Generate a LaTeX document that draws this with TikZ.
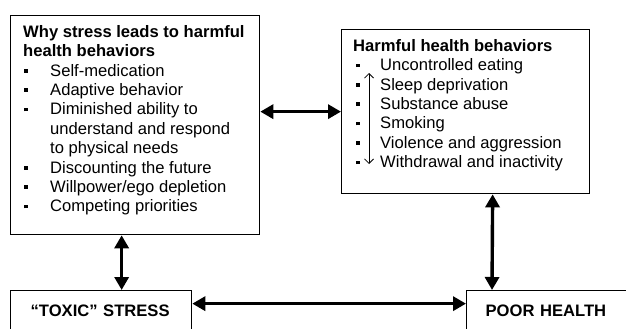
\documentclass[tikz,border=0pt]{standalone}
\usepackage{fontspec}
\setmainfont{Liberation Sans}
\usetikzlibrary{arrows.meta}
\newcommand{\bul}{\makebox[27pt][l]{\hspace{1pt}\rule[3.5pt]{3.5pt}{3.5pt}}}
\newcommand{\rbul}{\makebox[27pt][l]{\hspace{3pt}\rule[3.5pt]{3.5pt}{3.5pt}}}
\newcommand{\cont}{\hspace*{27pt}}

\begin{document}
\begin{tikzpicture}[x=1pt,y=-1pt,
    box/.style={draw,line width=1.3pt,inner sep=0pt,anchor=north west},
    label box/.style={draw,line width=1.3pt,anchor=north west,minimum height=40pt,align=left,inner ysep=0pt,font=\fontsize{16.6}{19}\selectfont\bfseries},
    list/.style={inner sep=0pt,anchor=north west,align=left,font=\fontsize{16.6}{19.4}\selectfont},
    bigarrow/.style={line width=3.4pt,{Triangle[length=13pt,width=14pt]}-{Triangle[length=13pt,width=14pt]}},
    thinarrow/.style={line width=0.8pt,{Straight Barb[length=4.5pt,width=9pt]}-{Straight Barb[length=4.5pt,width=9pt]}}]
    \clip (0,0) rectangle (626,329);
    \node (whybox) at (10,15) [box,minimum width=249pt,minimum height=219pt] {};
    \node (habox) at (341,29) [box,minimum width=248pt,minimum height=164pt] {};
    \node (toxic) at (10,290) [label box,text width=141pt,inner xsep=20pt] {``TOXIC'' STRESS};
    \node (poor) at (466,290) [label box,text width=160pt,inner xsep=19pt] {POOR HEALTH};
    \node (whytext) at (23,25) [list] {\textbf{Why stress leads to harmful}\\
        \textbf{health behaviors}\\
        \bul Self-medication\\
        \bul Adaptive behavior\\
        \bul Diminished ability to\\
        \cont understand and respond\\
        \cont to physical needs\\
        \bul Discounting the future\\
        \bul Willpower/ego depletion\\
        \bul Competing priorities};
    \node (hatext) at (353,39) [list] {\textbf{Harmful health behaviors}\\
        \rbul Uncontrolled eating\\
        \rbul Sleep deprivation\\
        \rbul Substance abuse\\
        \rbul Smoking\\
        \rbul Violence and aggression\\
        \rbul Withdrawal and inactivity};
    \coordinate (hup) at (369,73);
    \coordinate (hdn) at (369,164);
    \draw[thinarrow] (hup) -- (hdn);
    \draw[bigarrow] (whybox.east |- habox.west) -- (habox.west);
    \draw[bigarrow] ([xshift=-13.5pt]whybox.south) -- ([xshift=20.5pt]toxic.north);
    \draw[bigarrow] ([xshift=27pt]habox.south) -- ([xshift=26pt]poor.north west);
    \draw[bigarrow] ([yshift=7pt]toxic.east) -- ([yshift=7pt]poor.west);
\end{tikzpicture}
\end{document}
